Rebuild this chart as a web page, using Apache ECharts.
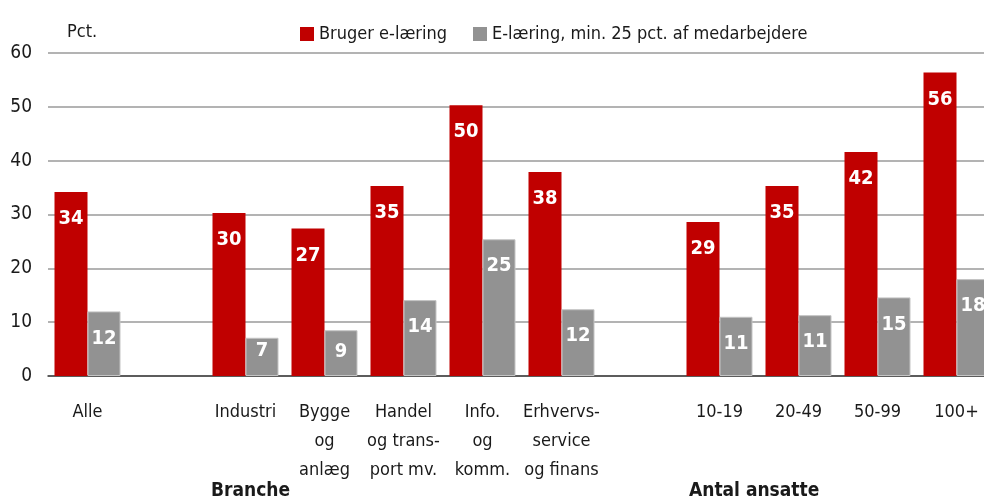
<!DOCTYPE html>
<html>
<head>
<meta charset="utf-8">
<script src="https://cdn.jsdelivr.net/npm/echarts@6/dist/echarts.min.js"></script>
<style>
  html, body { margin: 0; padding: 0; background: #fff; overflow: hidden; }
  #chart { width: 996px; height: 502px; }
</style>
</head>
<body>
<div id="chart"></div>
<script>
const FONT = '"Liberation Sans Narrow", "DejaVu Sans Condensed", "Noto Sans", sans-serif'

const categories = ['Alle', '', 'Industri', 'Bygge\nog\nanlæg', 'Handel\nog trans-\nport mv.', 'Info.\nog\nkomm.',
  'Erhvervs-\nservice\nog finans', '', '10-19', '20-49', '50-99', '100+']
const seriesNames = ['Bruger e-læring', 'E-læring, min. 25 pct. af medarbejdere']
const brugerValues = [34.2, null, 30.3, 27.4, 35.3, 50.3, 37.9, null, 28.6, 35.3, 41.6, 56.4]
const minValues = [12.0, null, 7.1, 8.5, 14.1, 25.4, 12.4, null, 11.0, 11.3, 14.6, 18.0]
const yTicks = [0, 10, 20, 30, 40, 50, 60]

const chart = echarts.init(document.getElementById('chart'))

function labelled(values) {
  // short bars get their label pulled up a bit, like the original
  return values.map(v => {
    if (v == null) return v
    if (v < 8) return { value: v, label: { distance: 3 } }
    if (v < 9) return { value: v, label: { distance: 12 } }
    return v
  })
}

const barLabel = {
  show: true,
  position: 'insideTop',
  distance: 17,
  color: '#fff',
  fontFamily: FONT,
  fontWeight: 'bold',
  fontSize: 20,
  formatter: p => Math.round(p.value)
}

chart.setOption({
  animation: false,
  title: {
    text: 'Pct.',
    left: 62,
    top: 18,
    textStyle: { fontFamily: FONT, fontWeight: 'normal', fontSize: 18, color: '#1a1a1a' }
  },
  legend: {
    data: seriesNames,
    left: 295,
    top: 20,
    itemWidth: 14,
    itemHeight: 14,
    itemGap: 26,
    icon: 'rect',
    itemStyle: { borderWidth: 0 },
    textStyle: { fontFamily: FONT, fontSize: 18, color: '#1a1a1a' }
  },
  grid: { left: 48, right: 0, top: 53, bottom: 126 },
  xAxis: {
    type: 'category',
    data: categories,
    axisTick: { show: false },
    axisLine: { lineStyle: { color: '#404040', width: 1.5 } },
    axisLabel: {
      interval: 0,
      margin: 22,
      fontFamily: FONT,
      fontSize: 18,
      lineHeight: 29,
      color: '#1a1a1a'
    }
  },
  yAxis: {
    type: 'value',
    min: yTicks[0],
    max: yTicks[yTicks.length - 1],
    interval: 10,
    axisLine: { show: false },
    axisTick: { show: false },
    axisLabel: { margin: 16, fontFamily: FONT, fontSize: 19, color: '#1a1a1a' },
    splitLine: { lineStyle: { color: '#b3b3b3', width: 2 } }
  },
  graphic: [
    { type: 'text', left: 211, top: 482,
      style: { text: 'Branche', fontFamily: FONT, fontWeight: 'bold', fontSize: 19, fill: '#1a1a1a' } },
    { type: 'text', left: 689, top: 482,
      style: { text: 'Antal ansatte', fontFamily: FONT, fontWeight: 'bold', fontSize: 19, fill: '#1a1a1a' } }
  ],
  series: [
    {
      name: seriesNames[0],
      type: 'bar',
      data: labelled(brugerValues),
      barWidth: 33,
      barGap: '0%',
      itemStyle: { color: '#c00000' },
      label: barLabel
    },
    {
      name: seriesNames[1],
      type: 'bar',
      data: labelled(minValues),
      barWidth: 33,
      itemStyle: { color: '#929292', borderColor: '#c4c4c4', borderWidth: 1 },
      label: barLabel
    }
  ]
})
</script>
</body>
</html>
